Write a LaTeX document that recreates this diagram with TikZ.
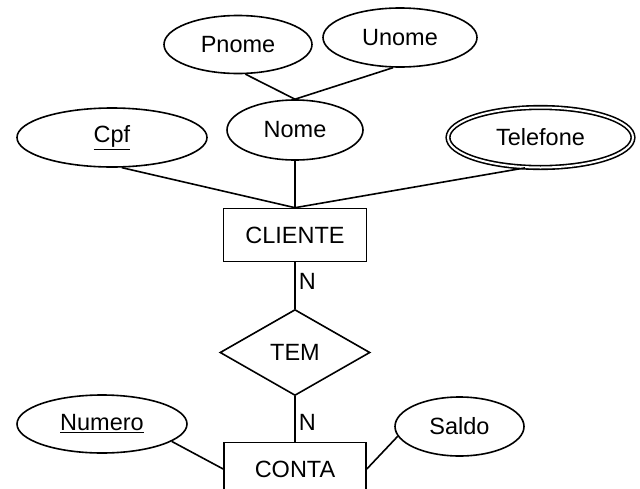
\documentclass[tikz,border=0pt]{standalone}
\usepackage{fontspec}
\setmainfont{Liberation Sans}
\usetikzlibrary{shapes.geometric}

\begin{document}
\begin{tikzpicture}[x=1pt,y=-1pt,line width=1.6pt,
    every node/.style={font=\fontsize{23.5}{28}\selectfont},
    attr/.style={draw,ellipse,inner sep=0pt},
    entity/.style={draw,rectangle,inner sep=0pt},
    rel/.style={draw,diamond,inner sep=0pt}]
      \clip (0,0) rectangle (640,488);
      % entities and relationship
      \node[entity,minimum width=143pt,minimum height=53pt] (cliente) at (295,235) {CLIENTE};
      \node[rel,minimum width=150pt,minimum height=86pt] (tem) at (295,352.5) {TEM};
      \node[entity,minimum width=142pt,minimum height=53pt] (conta) at (295,469) {CONTA};
      % attributes
      \node[attr,minimum width=148pt,minimum height=58pt] (pnome) at (238,44.5) {Pnome};
      \node[attr,minimum width=154pt,minimum height=59pt] (unome) at (400,37.5) {Unome};
      \node[attr,minimum width=136pt,minimum height=60pt] (nome) at (295,130) {Nome};
      \node[attr,minimum width=190pt,minimum height=59pt] (cpf) at (112,137.5) {\underline{Cpf}};
      \node[attr,double,double distance=2pt,minimum width=185pt,minimum height=60pt] (telefone) at (540.5,137.5) {Telefone};
      \node[attr,minimum width=170pt,minimum height=58pt] (numero) at (102,424) {\underline{Numero}};
      \node[attr,minimum width=129pt,minimum height=59pt] (saldo) at (459.5,426.5) {Saldo};
      % links
      \draw (pnome.-76) -- (nome.north);
      \draw (unome.-103) -- (nome.north);
      \draw (cpf.-72) -- (cliente.north);
      \draw (nome.south) -- (cliente.north);
      \draw (telefone.-117) -- (cliente.north);
      \draw (cliente.south) -- node[right,pos=0.42,inner sep=3pt] (n1) {N} (tem.north);
      \draw (tem.south) -- node[right,pos=0.58,inner sep=3pt] (n2) {N} (conta.north);
      \draw (numero.-14) -- (conta.west);
      \draw (saldo.-171) -- (conta.east);
\end{tikzpicture}
\end{document}
